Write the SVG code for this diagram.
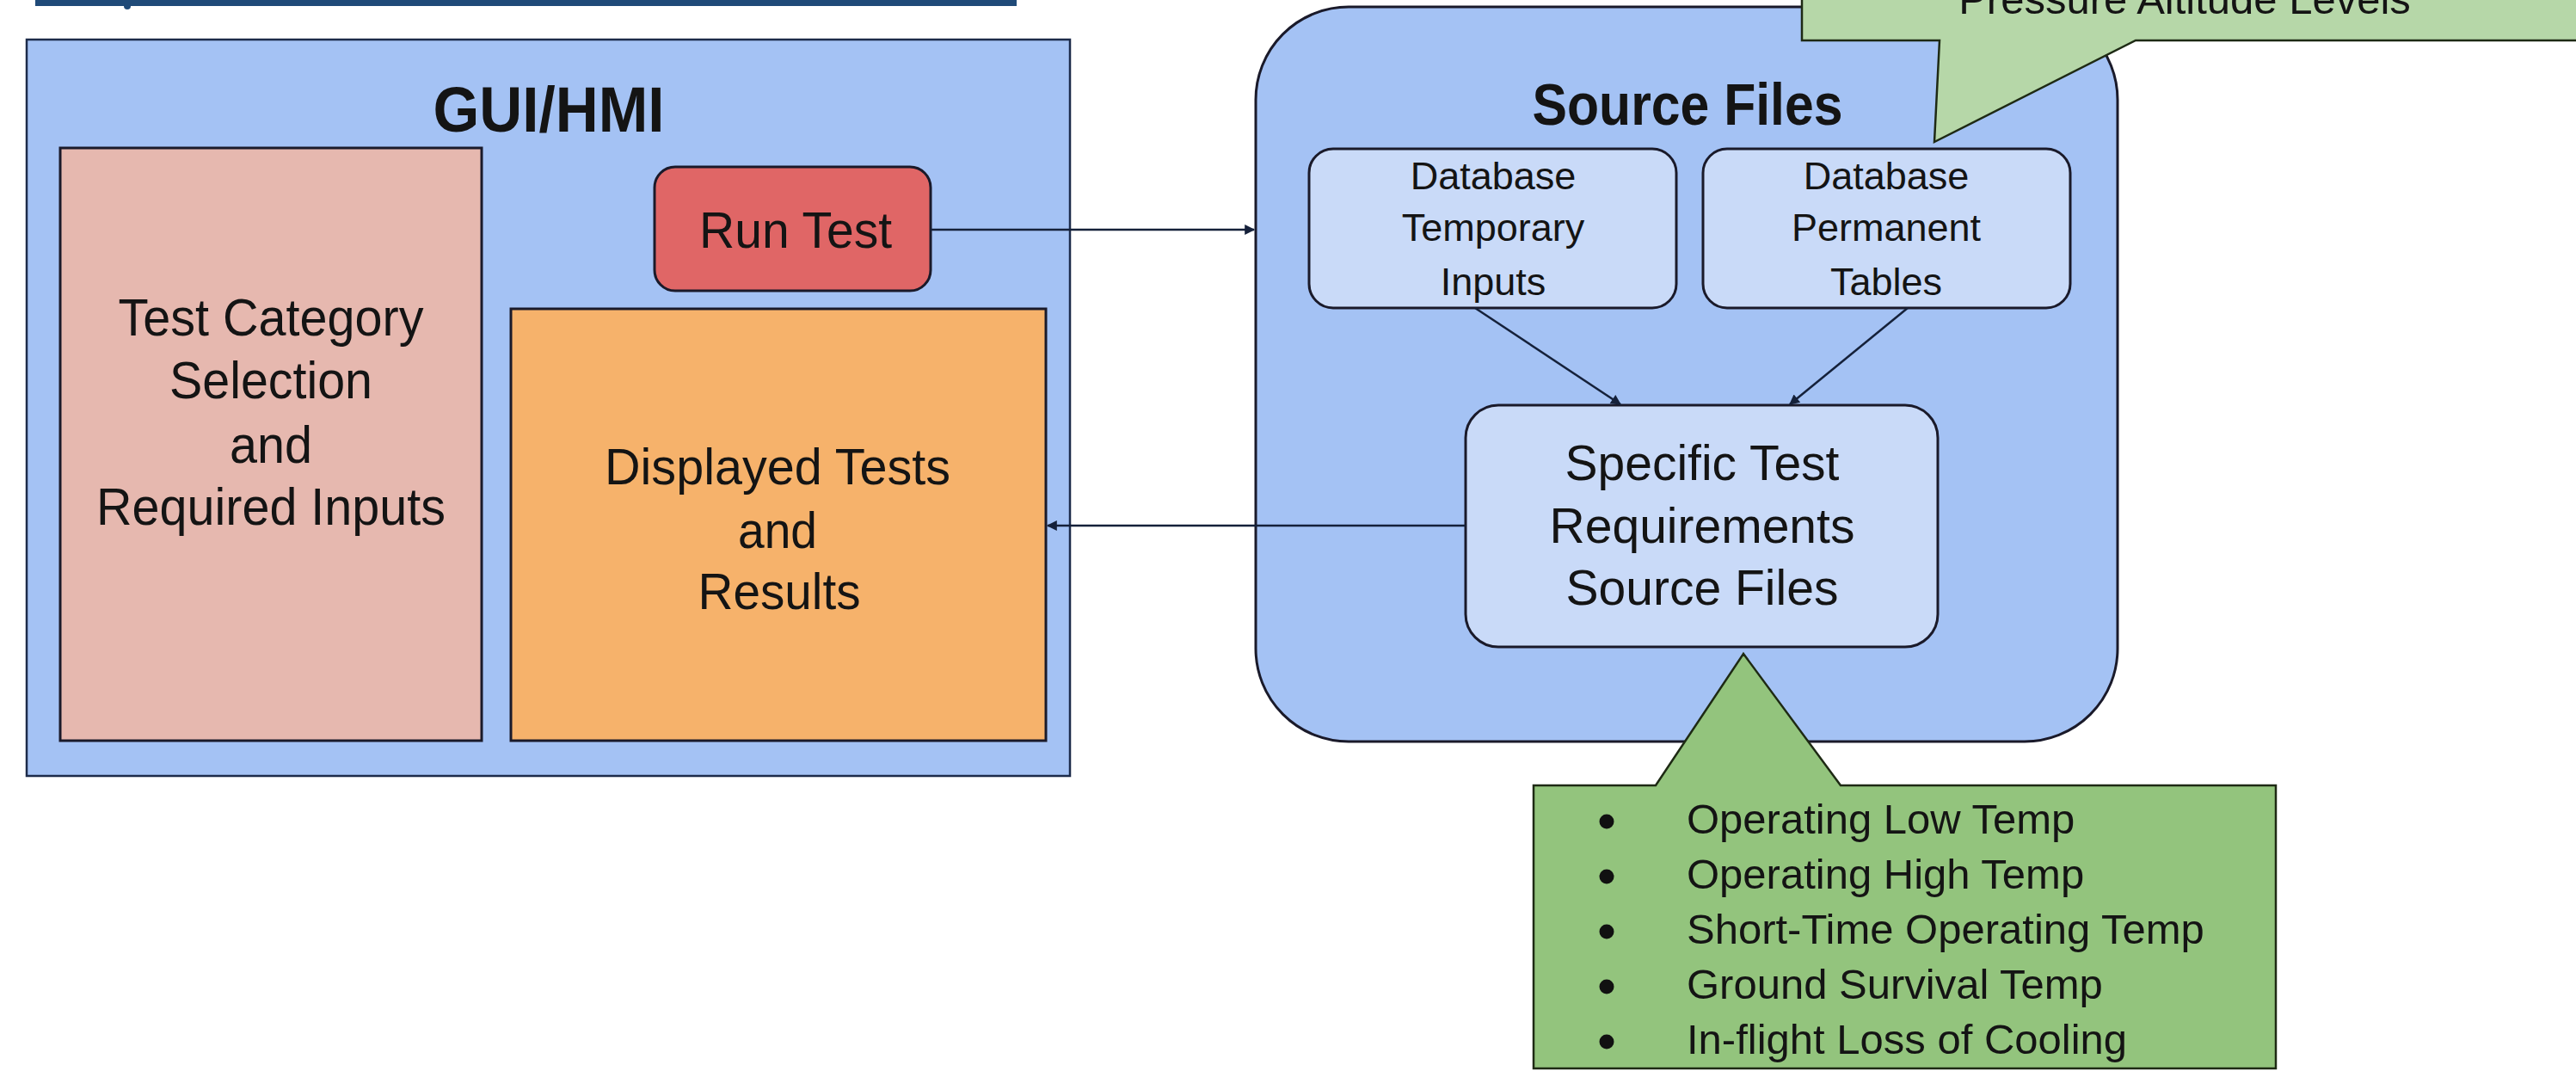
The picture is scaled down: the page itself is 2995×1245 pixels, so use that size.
<svg xmlns="http://www.w3.org/2000/svg" width="2995" height="1245" viewBox="0 0 2995 1245">
<style>
  text { font-family: "Liberation Sans", Arial, sans-serif; fill: #141414; text-anchor: middle; }
  .title { font-weight: bold; }
  .box { stroke: #1a1a2a; stroke-width: 3; }
  .conn { stroke: #15213a; stroke-width: 2.5; fill: none; }
  .call { stroke: #1e2a14; stroke-width: 2.5; }
  .bul { text-anchor: start; font-size: 49px; }
</style>
<defs>
  <marker id="arr" viewBox="0 0 10 10" refX="9" refY="5" markerWidth="14" markerHeight="12" markerUnits="userSpaceOnUse" orient="auto">
    <path d="M0,0 L10,5 L0,10 z" fill="#15213a"/>
  </marker>
</defs>
<rect width="2995" height="1245" fill="#ffffff"/>

<g id="link-underline">
  <rect x="41" y="0" width="1141" height="7" fill="#1f4a78"/>
  <circle cx="148" cy="7" r="4" fill="#1f4a78"/>
</g>

<g id="gui-hmi">
  <rect x="31" y="46" width="1213" height="856" fill="#a4c2f4" stroke="#1c2b4a" stroke-width="2.5"/>
  <text class="title" x="638" y="153" font-size="74" textLength="269" lengthAdjust="spacingAndGlyphs">GUI/HMI</text>
</g>

<g id="test-category">
  <rect class="box" x="70" y="172" width="490" height="689" fill="#e6b8af"/>
  <text x="315" y="390" font-size="61" textLength="355" lengthAdjust="spacingAndGlyphs">Test Category</text>
  <text x="315" y="463" font-size="61" textLength="236" lengthAdjust="spacingAndGlyphs">Selection</text>
  <text x="315" y="538" font-size="61" textLength="96" lengthAdjust="spacingAndGlyphs">and</text>
  <text x="315" y="610" font-size="61" textLength="406" lengthAdjust="spacingAndGlyphs">Required Inputs</text>
</g>

<g id="run-test">
  <rect class="box" x="761" y="194" width="321" height="144" rx="24" fill="#e06666"/>
  <text x="925" y="288" font-size="59" textLength="224" lengthAdjust="spacingAndGlyphs">Run Test</text>
</g>

<g id="displayed-tests">
  <rect class="box" x="594" y="359" width="622" height="502" fill="#f6b26b"/>
  <text x="904" y="563" font-size="60" textLength="402" lengthAdjust="spacingAndGlyphs">Displayed Tests</text>
  <text x="904" y="637" font-size="60" textLength="92" lengthAdjust="spacingAndGlyphs">and</text>
  <text x="906" y="708" font-size="60" textLength="189" lengthAdjust="spacingAndGlyphs">Results</text>
</g>

<g id="source-files">
  <rect class="box" x="1460" y="8" width="1002" height="854" rx="108" fill="#a4c2f4"/>
  <text class="title" x="1962" y="145" font-size="68" textLength="361" lengthAdjust="spacingAndGlyphs">Source Files</text>
</g>

<g id="db-temporary">
  <rect class="box" x="1522" y="173" width="427" height="185" rx="28" fill="#c9daf8"/>
  <text x="1736" y="220" font-size="45">Database</text>
  <text x="1736" y="280" font-size="45">Temporary</text>
  <text x="1736" y="343" font-size="45">Inputs</text>
</g>

<g id="db-permanent">
  <rect class="box" x="1980" y="173" width="427" height="185" rx="28" fill="#c9daf8"/>
  <text x="2193" y="220" font-size="45">Database</text>
  <text x="2193" y="280" font-size="45">Permanent</text>
  <text x="2193" y="343" font-size="45">Tables</text>
</g>

<g id="specific-test">
  <rect class="box" x="1704" y="471" width="549" height="281" rx="38" fill="#c9daf8"/>
  <text x="1979" y="558" font-size="57">Specific Test</text>
  <text x="1979" y="631" font-size="57">Requirements</text>
  <text x="1979" y="703" font-size="57">Source Files</text>
</g>

<g id="connectors">
  <line class="conn" x1="1082" y1="267" x2="1458" y2="267" marker-end="url(#arr)"/>
  <line class="conn" x1="1704" y1="611" x2="1218" y2="611" marker-end="url(#arr)"/>
  <line class="conn" x1="1715" y1="358" x2="1884" y2="470" marker-end="url(#arr)"/>
  <line class="conn" x1="2218" y1="358" x2="2081" y2="470" marker-end="url(#arr)"/>
</g>

<g id="callout-pressure">
  <path class="call" d="M2095,-5 L3000,-5 L3000,47 L2483,47 L2249,165 L2255,47 L2095,47 Z" fill="#b6d7a8"/>
  <text x="2540" y="16" font-size="49">Pressure Altitude Levels</text>
</g>

<g id="callout-temps">
  <path class="call" d="M1783,913 L1925,913 L2027,760 L2140,913 L2646,913 L2646,1242 L1783,1242 Z" fill="#93c47d"/>
  <circle cx="1868" cy="955" r="8.5" fill="#111"/>
  <circle cx="1868" cy="1019" r="8.5" fill="#111"/>
  <circle cx="1868" cy="1083" r="8.5" fill="#111"/>
  <circle cx="1868" cy="1147" r="8.5" fill="#111"/>
  <circle cx="1868" cy="1211" r="8.5" fill="#111"/>
  <text class="bul" x="1961" y="969">Operating Low Temp</text>
  <text class="bul" x="1961" y="1033">Operating High Temp</text>
  <text class="bul" x="1961" y="1097">Short-Time Operating Temp</text>
  <text class="bul" x="1961" y="1161">Ground Survival Temp</text>
  <text class="bul" x="1961" y="1225">In-flight Loss of Cooling</text>
</g>
</svg>
